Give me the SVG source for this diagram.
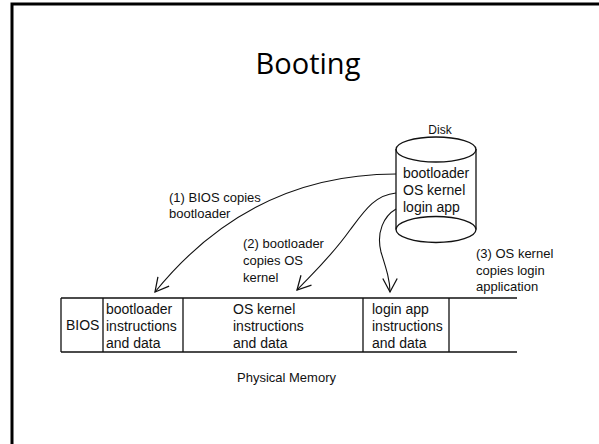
<svg xmlns="http://www.w3.org/2000/svg" width="599" height="444" viewBox="0 0 599 444">
<defs>
<style>
.t{font-family:"Liberation Sans",Arial,sans-serif;font-size:14px;fill:#111}
.s{font-family:"Liberation Sans",Arial,sans-serif;font-size:13px;fill:#111}
.ln{fill:none;stroke:#111;stroke-width:1.3}
.cn{fill:none;stroke:#111;stroke-width:1.1}
</style>
<marker id="arr" viewBox="0 0 20 20" refX="18" refY="10" markerWidth="18" markerHeight="18" markerUnits="userSpaceOnUse" orient="auto">
<path d="M3,2 L18,10 L3,18" fill="none" stroke="#111" stroke-width="1.4"/>
</marker>
</defs>
<rect width="599" height="444" fill="#fff"/>
<path d="M12,446 V4 H601" fill="none" stroke="#000" stroke-width="3"/>
<text x="308" y="74" text-anchor="middle" style="font-family:'Open Sans','Liberation Sans',sans-serif;font-size:29px;fill:#000">Booting</text>

<g id="disk">
<text x="440" y="134" text-anchor="middle" class="s" style="font-size:12px">Disk</text>
<path class="ln" d="M396,149 V229.5"/>
<path class="ln" d="M476,149 V229.5"/>
<ellipse class="ln" cx="436" cy="149.5" rx="40" ry="12.5" fill="#fff"/>
<ellipse class="ln" cx="436" cy="229.5" rx="40" ry="13"/>
<text x="403" y="178" class="t">bootloader</text>
<text x="403" y="195" class="t">OS kernel</text>
<text x="403" y="212" class="t">login app</text>
</g>

<g id="memory">
<path class="ln" d="M61,298 H517 M61,352 H517 M61,298 V352 M103,298 V352 M183,298 V352 M363,298 V352 M449,298 V352"/>
<text x="66" y="330" class="t">BIOS</text>
<text x="106" y="314" class="t">bootloader</text>
<text x="106" y="331" class="t">instructions</text>
<text x="106" y="348" class="t">and data</text>
<text x="233" y="314" class="t">OS kernel</text>
<text x="233" y="331" class="t">instructions</text>
<text x="233" y="348" class="t">and data</text>
<text x="372" y="314" class="t">login app</text>
<text x="372" y="331" class="t">instructions</text>
<text x="372" y="348" class="t">and data</text>
<text x="237" y="382" class="s">Physical Memory</text>
</g>

<g id="labels">
<text x="169" y="202" class="s">(1) BIOS copies</text>
<text x="169" y="218" class="s">bootloader</text>
<text x="243" y="248" class="s">(2) bootloader</text>
<text x="243" y="265" class="s">copies OS</text>
<text x="243" y="282" class="s">kernel</text>
<text x="476" y="258" class="s">(3) OS kernel</text>
<text x="476" y="275" class="s">copies login</text>
<text x="476" y="291" class="s">application</text>
</g>

<g id="connectors">
<path class="cn" d="M396,174 C300,174 220,212 155,292" marker-end="url(#arr)"/>
<path class="cn" d="M396,193 C375,195 365,210 350,230 C330,258 312,274 297,290" marker-end="url(#arr)"/>
<path class="cn" d="M396,209 C384,216 376,232 381,252 C386,268 390,280 390,292" marker-end="url(#arr)"/>
</g>
</svg>
